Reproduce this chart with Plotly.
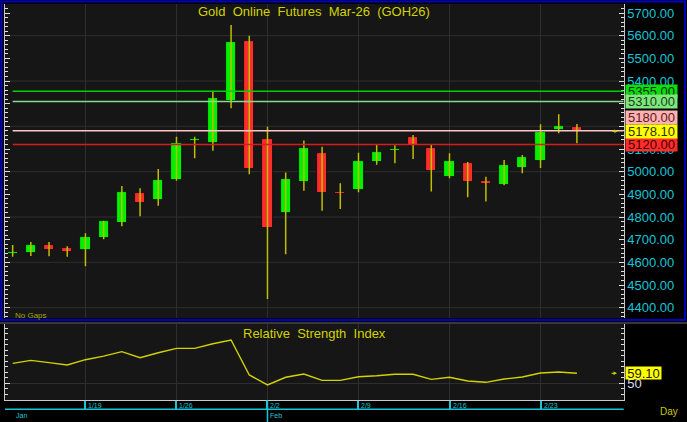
import plotly.graph_objects as go

# ---------------- data ----------------
dates = ["2026-01-13", "2026-01-14", "2026-01-15", "2026-01-16",
         "2026-01-19", "2026-01-20", "2026-01-21", "2026-01-22", "2026-01-23",
         "2026-01-26", "2026-01-27", "2026-01-28", "2026-01-29", "2026-01-30",
         "2026-02-02", "2026-02-03", "2026-02-04", "2026-02-05", "2026-02-06",
         "2026-02-09", "2026-02-10", "2026-02-11", "2026-02-12", "2026-02-13",
         "2026-02-16", "2026-02-17", "2026-02-18", "2026-02-19", "2026-02-20",
         "2026-02-23", "2026-02-24", "2026-02-25"]

opens = [4637, 4640, 4678, 4664, 4656, 4706, 4775, 4907, 4875, 4963, 5134, 5125,
         5312, 5578, 5144, 4816, 4953, 5084, 4909, 4920, 5044, 5090, 5152, 5103,
         4978, 5040, 4959, 4943, 5015, 5048, 5185, 5199]
highs = [4677, 4690, 4690, 4671, 4728, 4784, 4937, 4927, 5012, 5154, 5154, 5357,
         5647, 5600, 5198, 4996, 5137, 5110, 4949, 5084, 5121, 5117, 5162, 5121,
         5081, 5043, 4978, 5052, 5074, 5209, 5253, 5210]
lows = [4625, 4628, 4627, 4625, 4583, 4702, 4759, 4803, 4850, 4960, 5059, 5092,
        5280, 4989, 4438, 4636, 4916, 4828, 4835, 4909, 5031, 5037, 5056, 4912,
        4971, 4887, 4868, 4940, 4993, 5016, 5169, 5125]
closes = [4645, 4677, 4656, 4647, 4713, 4782, 4912, 4863, 4963, 5128, 5143, 5324,
          5573, 5012, 4752, 4966, 5103, 4907, 4902, 5047, 5088, 5098, 5113, 5004,
          5047, 4956, 4947, 5031, 5066, 5176, 5201, 5178.1]

rsi = [68.2, 70.9, 68.8, 66.7, 71.5, 74.8, 78.8, 73.3, 77.8, 81.8, 81.8, 86.0,
       89.4, 57.6, 48.5, 55.5, 58.5, 52.7, 52.7, 56.0, 56.9, 58.2, 58.2, 53.6,
       55.5, 52.1, 50.9, 53.9, 55.7, 59.4, 60.3, 59.1]
rsi_last_label = "59.10"

level_values = [5355, 5310, 5180, 5120]
level_labels = ["5355.00", "5310.00", "5180.00", "5120.00"]
last_price = 5178.10
last_price_label = "5178.10"

tick_dates = ["2026-01-19", "2026-01-26", "2026-02-02", "2026-02-09", "2026-02-16", "2026-02-23"]
tick_labels = ["1/19", "1/26", "2/2", "2/9", "2/16", "2/23"]
month_starts = ["2026-01-13", "2026-02-02"]
month_labels = ["Jan", "Feb"]

title_text = "Gold  Online  Futures  Mar-26  (GOH26)"
rsi_title = "Relative  Strength  Index"

# ---------------- styling ----------------
W, H = 687, 422
FONT = "Arial, Liberation Sans, sans-serif"
BG = "#161616"
GRID = "#2e2e2e"
CYAN = "#16c6d6"
YEL = "#d2d200"
WICK = "#bebe00"
UP = "#00f000"
DN = "#fa2c2c"
AXLINE = "#c8c8c8"

level_line_colors = ["#00d000", "#8ad88a", "#ffc4c4", "#d41e1e"]
level_box_colors = ["#10dc10", "#7ce87c", "#ffb2b2", "#ff2c2c"]
level_text_colors = ["#003000", "#1c3c1c", "#5a1a1a", "#3c0000"]
level_yshift = [0, 0, 13, 0]


def py(p):
    return 1 - p / H


def px(p):
    return p / W


x_dom = [px(5), px(623.7)]
xi = list(range(len(dates)))
x_range = [-0.42, 33.57]
tick_idx = [dates.index(d) for d in tick_dates]
month_idx = [dates.index(d) for d in month_starts]

fig = go.Figure()

# wicks
wx, wy = [], []
for i, h, l in zip(xi, highs, lows):
    wx += [i, i, None]
    wy += [l, h, None]
fig.add_trace(go.Scatter(x=wx, y=wy, mode="lines", line=dict(color=WICK, width=1.5),
                         hoverinfo="skip", showlegend=False, xaxis="x", yaxis="y"))

# bodies
base = [min(o, c) for o, c in zip(opens, closes)]
height = [abs(c - o) for o, c in zip(opens, closes)]
colors = [UP if c >= o else DN for o, c in zip(opens, closes)]
fig.add_trace(go.Bar(x=xi, y=height, base=base, width=0.56,
                     marker=dict(color=colors, line=dict(color="#080808", width=0.8)),
                     showlegend=False, xaxis="x", yaxis="y"))

# RSI
fig.add_trace(go.Scatter(x=xi, y=rsi, mode="lines", line=dict(color=YEL, width=1.4),
                         showlegend=False, xaxis="x2", yaxis="y2"))

shapes = []
annotations = []

# horizontal grid every 200 in price panel
for g in range(4400, 5800, 200):
    shapes.append(dict(type="line", xref="x domain", yref="y", x0=0, x1=1, y0=g, y1=g,
                       line=dict(color=GRID, width=1), layer="below"))

# level lines and boxes
for v, lab, lc, bc, tc, ys in zip(level_values, level_labels, level_line_colors,
                                  level_box_colors, level_text_colors, level_yshift):
    shapes.append(dict(type="line", xref="x", yref="y", x0=xi[0], x1=x_range[1], y0=v, y1=v,
                       line=dict(color=lc, width=1.5), layer="above"))
    annotations.append(dict(xref="paper", yref="y", x=px(624.5), y=v, yshift=ys,
                            xanchor="left", yanchor="middle", text=lab, showarrow=False,
                            bgcolor=bc, width=51, height=13, borderpad=0,
                            font=dict(family=FONT, size=13, color=tc)))
annotations.append(dict(xref="paper", yref="y", x=px(624.5), y=last_price,
                        xanchor="left", yanchor="middle", text=last_price_label, showarrow=False,
                        bgcolor="#ffff00", width=51, height=13, borderpad=0,
                        font=dict(family=FONT, size=13, color="#303000")))
# arrows
annotations.append(dict(xref="x", yref="y", x=33.25, y=last_price, ax=-7, ay=0,
                        showarrow=True, arrowhead=2, arrowsize=0.7, arrowwidth=1,
                        arrowcolor=YEL, text=""))
annotations.append(dict(xref="x2", yref="y2", x=33.2, y=rsi[-1], ax=-7, ay=0,
                        showarrow=True, arrowhead=2, arrowsize=0.7, arrowwidth=1,
                        arrowcolor=YEL, text=""))
annotations.append(dict(xref="paper", yref="y2", x=px(625), y=rsi[-1],
                        xanchor="left", yanchor="middle", text=rsi_last_label, showarrow=False,
                        bgcolor="#ffff00", width=35, height=12, borderpad=0,
                        font=dict(family=FONT, size=13, color="#202000")))

# titles
annotations.append(dict(xref="x domain", yref="paper", x=0.5, y=py(11.5), xanchor="center",
                        yanchor="middle", showarrow=False,
                        text=title_text.replace(" ", "\u00a0"),
                        font=dict(family=FONT, size=13, color=YEL)))
annotations.append(dict(xref="x2 domain", yref="paper", x=0.5, y=py(333), xanchor="center",
                        yanchor="middle", showarrow=False,
                        text=rsi_title.replace(" ", "\u00a0"),
                        font=dict(family=FONT, size=13, color=YEL)))
annotations.append(dict(xref="paper", yref="paper", x=px(13), y=py(315), xanchor="left",
                        yanchor="middle", showarrow=False, text="No\u00a0Gaps",
                        font=dict(family=FONT, size=8, color="#a8a800")))
annotations.append(dict(xref="paper", yref="paper", x=px(658), y=py(411), xanchor="left",
                        yanchor="middle", showarrow=False, text="Day",
                        font=dict(family=FONT, size=10, color="#c8c800")))

# date tick labels
for idx, lab in zip(tick_idx, tick_labels):
    annotations.append(dict(xref="x2", yref="paper", x=idx, y=py(405), xanchor="left",
                            xshift=1, yanchor="middle", showarrow=False, text=lab,
                            font=dict(family=FONT, size=7, color=CYAN)))
for idx, lab in zip(month_idx, month_labels):
    annotations.append(dict(xref="x2", yref="paper", x=idx, y=py(415.5), xanchor="left",
                            xshift=1, yanchor="middle", showarrow=False, text=lab,
                            font=dict(family=FONT, size=7, color=CYAN)))
    if idx > 0:
        shapes.append(dict(type="line", xref="x2", yref="paper", x0=idx, x1=idx,
                           y0=py(422), y1=py(400), line=dict(color=CYAN, width=1.5)))

# cyan baseline of date strip
shapes.append(dict(type="line", xref="paper", yref="paper", x0=x_dom[0], x1=x_dom[1],
                   y0=py(409.3), y1=py(409.3), line=dict(color=CYAN, width=1.5)))
# panel frames
shapes.append(dict(type="rect", xref="paper", yref="paper", x0=px(1.5), x1=px(685),
                   y0=py(320), y1=py(1.5), line=dict(color="#0000c8", width=2)))
shapes.append(dict(type="line", xref="paper", yref="paper", x0=0, x1=1,
                   y0=py(323), y1=py(323), line=dict(color="#707070", width=1)))

fig.update_layout(
    width=W, height=H,
    margin=dict(l=0, r=0, t=0, b=0),
    paper_bgcolor="#000000", plot_bgcolor=BG,
    showlegend=False, bargap=0,
    font=dict(family=FONT),
    shapes=shapes, annotations=annotations,
    xaxis=dict(domain=x_dom, anchor="y", range=x_range, showticklabels=False,
               tickvals=tick_idx, ticks="", showgrid=True, gridcolor=GRID, gridwidth=1,
               zeroline=False, showline=False),
    yaxis=dict(domain=[py(318), py(4)], anchor="x", side="right",
               range=[4354.5, 5739.7], tick0=0, dtick=100, tickformat=".2f",
               ticks="inside", ticklen=5, tickcolor="#e0e0e0", tickwidth=1,
               showline=True, linecolor=AXLINE, linewidth=1, mirror="ticks",
               minor=dict(dtick=20, tick0=0, ticks="inside", ticklen=3, tickcolor="#e0e0e0",
                          showgrid=False),
               showgrid=False, zeroline=False,
               tickfont=dict(family=FONT, size=13, color=CYAN)),
    xaxis2=dict(domain=x_dom, anchor="y2", range=x_range, matches="x", showticklabels=False,
                tickvals=tick_idx, ticks="outside", ticklen=9, tickcolor=CYAN, tickwidth=1.5,
                showgrid=True, gridcolor=GRID, zeroline=False,
                showline=True, linecolor=AXLINE, linewidth=1),
    yaxis2=dict(domain=[py(400), py(324)], anchor="x2", side="right",
                range=[34.8, 104], tickvals=[50], ticktext=["50"],
                ticks="inside", ticklen=5, tickcolor="#e0e0e0",
                showline=True, linecolor=AXLINE, linewidth=1, mirror="ticks",
                minor=dict(dtick=5, tick0=0, ticks="inside", ticklen=3, tickcolor="#e0e0e0",
                           showgrid=False),
                showgrid=True, gridcolor=GRID, zeroline=False,
                tickfont=dict(family=FONT, size=13, color="#dcdcf0")),
)

fig.write_html("out.html",
               config={"displayModeBar": False},
               post_script="document.body.style.margin='0';document.body.style.background='#000';")
